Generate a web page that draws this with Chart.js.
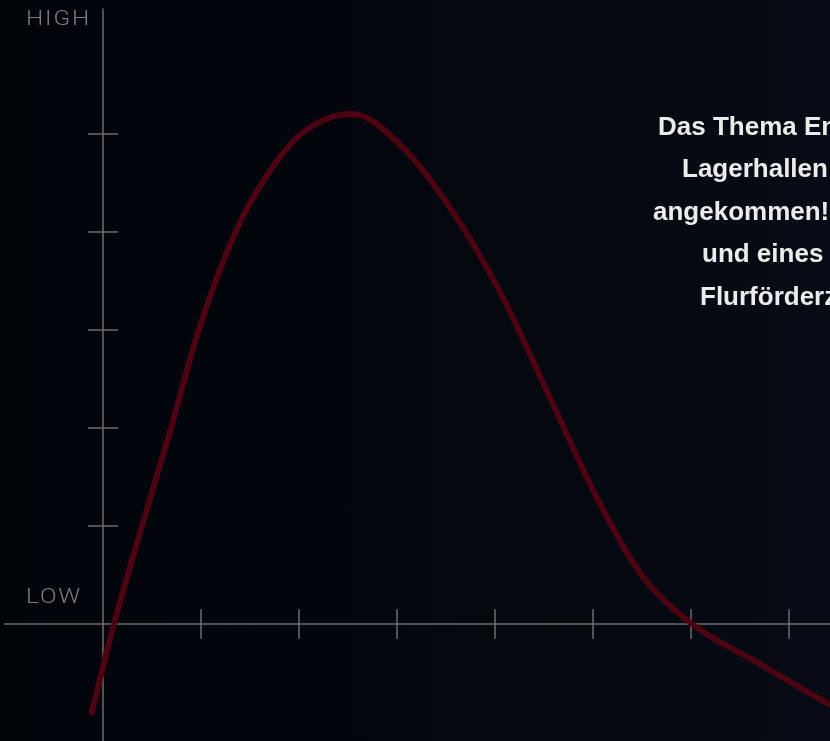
<!DOCTYPE html>
<html lang="de">
<head>
  <meta charset="UTF-8" />
  <title>Kurve HIGH / LOW</title>
  <script src="https://cdn.jsdelivr.net/npm/chart.js"></script>
  <style>
    html, body {
      margin: 0;
      padding: 0;
      width: 830px;
      height: 741px;
      overflow: hidden;
      background: linear-gradient(90deg, #02060b 0%, #03070d 45%, #060b15 100%);
    }
    .wrap {
      position: relative;
      width: 830px;
      height: 741px;
    }
    canvas {
      position: absolute;
      left: 0;
      top: 0;
    }
    .axis-label {
      position: absolute;
      font-family: 'Roboto', 'Liberation Sans', sans-serif;
      font-weight: 300;
      font-size: 20px;
      line-height: 20px;
      color: #7d7d7d;
      letter-spacing: 1.5px;
      transform: scaleX(1.22);
      transform-origin: left top;
    }
    .text-line {
      position: absolute;
      font-family: 'Liberation Sans', Arial, sans-serif;
      font-weight: bold;
      font-size: 26px;
      line-height: 26px;
      color: #ececec;
      white-space: nowrap;
    }
  </style>
</head>
<body>
  <div class="wrap">
    <canvas id="curveChart" width="830" height="741"></canvas>
    <div class="axis-label" style="left:26px; top:8px;">HIGH</div>
    <div class="axis-label" style="left:26px; top:586px;">LOW</div>

    <div class="text-line" style="left:658px; top:113px;">Das Thema Energie</div>
    <div class="text-line" style="left:682px; top:155px;">Lagerhallen ist</div>
    <div class="text-line" style="left:653px; top:198px;">angekommen! Der</div>
    <div class="text-line" style="left:702px; top:240px;">und eines</div>
    <div class="text-line" style="left:700px; top:283px;">Flurförderzeugs</div>
  </div>

  <script>
    // Kurve (x und y in Tick-Einheiten)
    const curveX = [-0.122, 0.112, 0.398, 0.694, 0.980, 1.357, 1.643, 2.010, 2.541, 3.082, 3.643, 4.092, 4.571, 5.051, 5.480, 6.010, 6.704, 7.418];
    const curveY = [-0.929, 0.000, 1.000, 2.000, 3.010, 4.010, 4.531, 4.990, 5.204, 4.837, 4.092, 3.306, 2.286, 1.265, 0.520, 0.000, -0.408, -0.827];

    // Achsen-Striche
    const xTicks = [1, 2, 3, 4, 5, 6, 7];
    const yTicks = [1, 2, 3, 4, 5];

    const axisColor = "#6c6c6c";

    const axesPlugin = {
      id: "axesPlugin",
      beforeDatasetsDraw(chart) {
        const ctx = chart.ctx;
        const xs = chart.scales.x;
        const ys = chart.scales.y;
        const x0 = xs.getPixelForValue(0);
        const y0 = ys.getPixelForValue(0);

        ctx.save();
        ctx.strokeStyle = axisColor;
        ctx.lineWidth = 1.5;

        // horizontale Achse
        ctx.beginPath();
        ctx.moveTo(xs.getPixelForValue(-1.01), y0);
        ctx.lineTo(chart.width, y0);
        ctx.stroke();

        // vertikale Achse
        ctx.beginPath();
        ctx.moveTo(x0, ys.getPixelForValue(6.28));
        ctx.lineTo(x0, chart.height);
        ctx.stroke();

        xTicks.forEach(t => {
          const px = xs.getPixelForValue(t);
          ctx.beginPath();
          ctx.moveTo(px, y0 - 15);
          ctx.lineTo(px, y0 + 15);
          ctx.stroke();
        });

        yTicks.forEach(t => {
          const py = ys.getPixelForValue(t);
          ctx.beginPath();
          ctx.moveTo(x0 - 15, py);
          ctx.lineTo(x0 + 15, py);
          ctx.stroke();
        });
        ctx.restore();
      }
    };

    const points = curveX.map((x, i) => ({ x: x, y: curveY[i] }));

    new Chart(document.getElementById("curveChart"), {
      type: "line",
      data: {
        datasets: [{
          data: points,
          borderColor: "#4c0412",
          borderWidth: 6,
          borderCapStyle: "butt",
          pointRadius: 0,
          fill: false,
          cubicInterpolationMode: "monotone"
        }]
      },
      options: {
        responsive: false,
        animation: false,
        layout: { padding: 0 },
        plugins: {
          legend: { display: false },
          tooltip: { enabled: false }
        },
        scales: {
          x: { type: "linear", min: -1.051, max: 7.418, display: false },
          y: { type: "linear", min: -1.194, max: 6.367, display: false }
        }
      },
      plugins: [axesPlugin]
    });
  </script>
</body>
</html>
